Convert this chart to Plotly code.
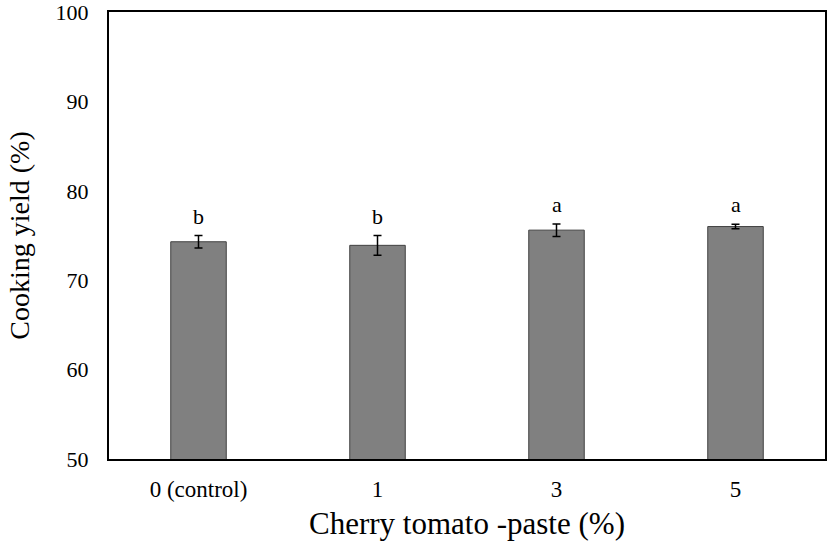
import plotly.graph_objects as go

categories = ["0 (control)", "1", "3", "5"]
means = [74.3, 73.9, 75.6, 76.0]
errors = [0.7, 1.1, 0.7, 0.25]
letters = ["b", "b", "a", "a"]
y_ticks = [50, 60, 70, 80, 90, 100]

FONT = "Liberation Serif, Times New Roman, serif"

fig = go.Figure()
fig.add_trace(go.Bar(
    x=categories, y=means,
    marker=dict(color="#808080", line=dict(color="#404040", width=1)),
    error_y=dict(type="data", array=errors, visible=True, color="black", thickness=1.5, width=4),
    width=0.31,
))

for i, (m, e, l) in enumerate(zip(means, errors, letters)):
    fig.add_annotation(x=i, y=m + e, text=l, showarrow=False, yanchor="bottom", yshift=5,
                       xref="x", yref="y",
                       font=dict(family=FONT, size=22, color="black"))

fig.update_layout(
    width=827, height=545,
    margin=dict(l=109, r=2, t=12, b=86),
    plot_bgcolor="white", paper_bgcolor="white",
    showlegend=False,
    font=dict(family=FONT, color="black"),
)
fig.update_xaxes(
    type="category", range=[-0.5, 3.5], automargin=False,
    showline=True, linecolor="black", linewidth=2, mirror=True,
    tickfont=dict(family=FONT, size=23), ticks="", ticklabelstandoff=8,
    ticklabeloverflow="allow",
    title=dict(text="Cherry tomato -paste (%)", font=dict(family=FONT, size=31), standoff=12),
)
fig.update_yaxes(
    range=[50, 100], tickvals=y_ticks, showgrid=False, zeroline=False, automargin=False,
    showline=True, linecolor="black", linewidth=2, mirror=True,
    tickfont=dict(family=FONT, size=22), ticks="", ticklabelstandoff=14,
    ticklabeloverflow="allow",
    title=dict(text="Cooking yield (%)", font=dict(family=FONT, size=28), standoff=18),
)

fig.write_html("out.html", config={"displayModeBar": False},
               post_script="document.body.style.margin='0';")
